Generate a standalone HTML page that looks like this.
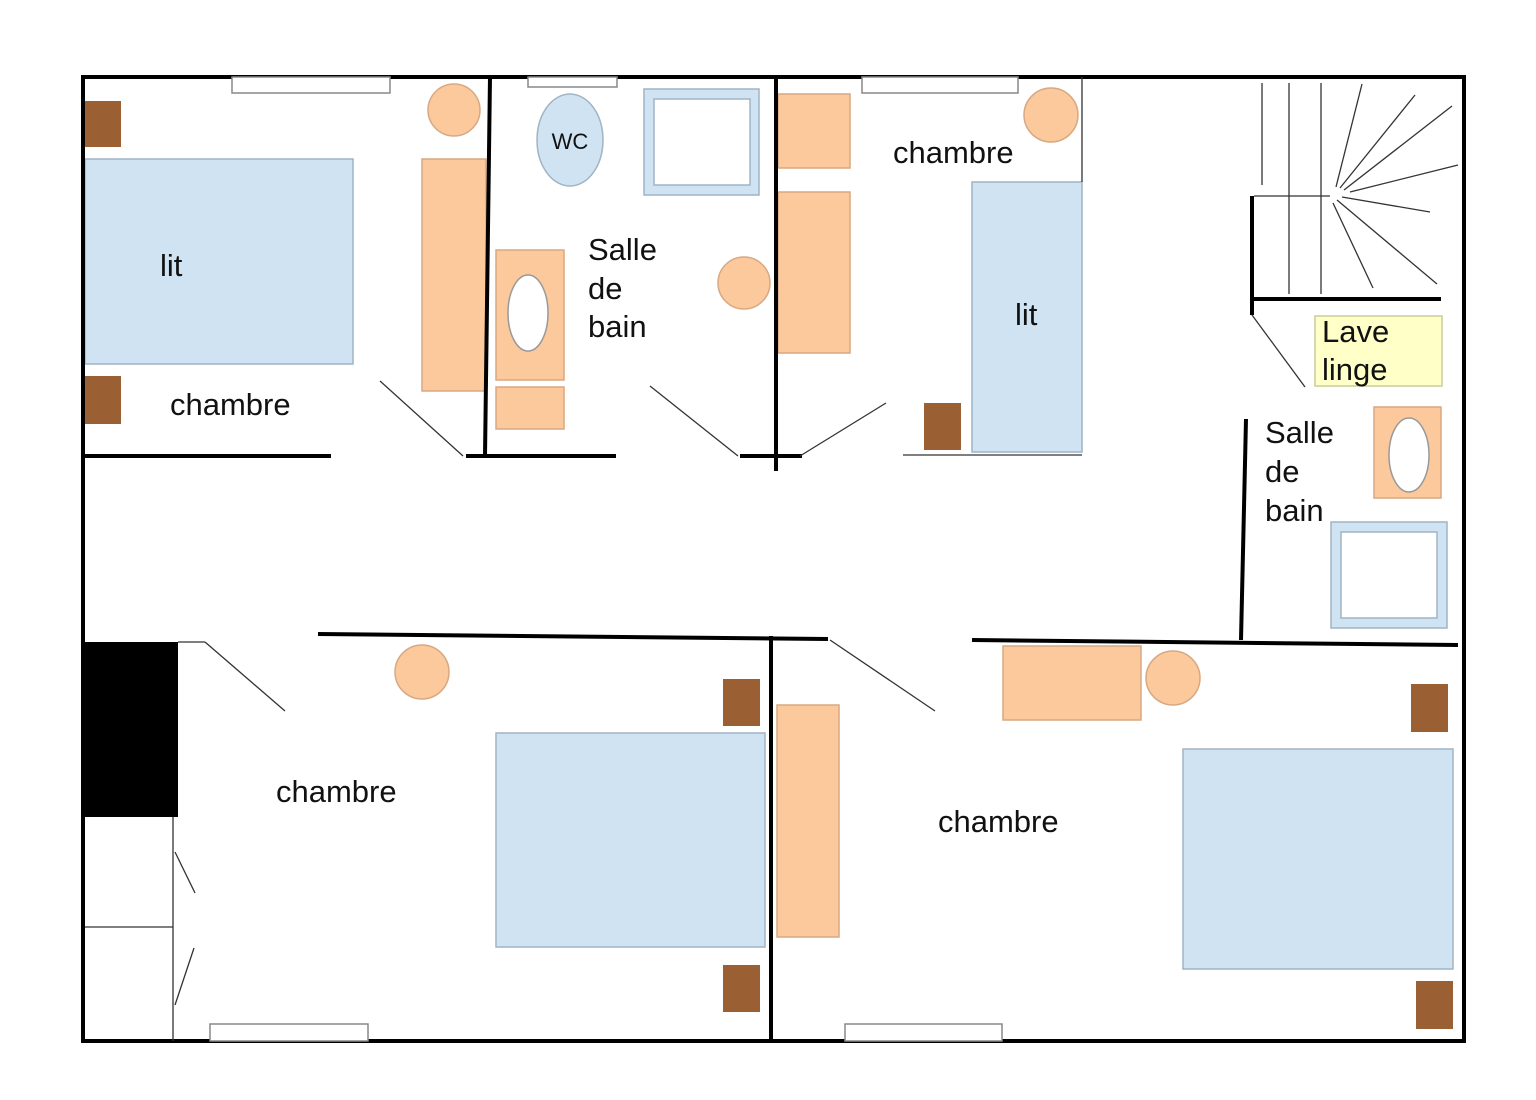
<!DOCTYPE html>
<html><head><meta charset="utf-8"><style>html,body{margin:0;padding:0;background:#fff}svg{display:block}text{font-family:"Liberation Sans",sans-serif;fill:#111}</style></head>
<body>
<svg width="1536" height="1100" viewBox="0 0 1536 1100" xmlns="http://www.w3.org/2000/svg">
<g stroke="#9fb4c4" stroke-width="1.5" fill="#cfe3f2">
<rect x="85" y="159" width="268" height="205"/>
<rect x="972" y="182" width="110" height="270"/>
<rect x="496" y="733" width="269" height="214"/>
<rect x="1183" y="749" width="270" height="220"/>
<ellipse cx="570" cy="140" rx="33" ry="46"/>
<rect x="644" y="89" width="115" height="106"/>
<rect x="1331" y="522" width="116" height="106"/>
</g>
<g fill="#fff" stroke="#9fb4c4" stroke-width="1.5">
<rect x="654" y="99" width="96" height="86"/>
<rect x="1341" y="532" width="96" height="86"/>
</g>
<g fill="#fbc99b" stroke="#d8a882" stroke-width="1.5">
<circle cx="454" cy="110" r="26"/>
<rect x="422" y="159" width="64" height="232"/>
<rect x="496" y="250" width="68" height="130"/>
<rect x="496" y="387" width="68" height="42"/>
<circle cx="744" cy="283" r="26"/>
<rect x="778" y="94" width="72" height="74"/>
<rect x="778" y="192" width="72" height="161"/>
<circle cx="1051" cy="115" r="27"/>
<rect x="1374" y="407" width="67" height="91"/>
<circle cx="422" cy="672" r="27"/>
<rect x="777" y="705" width="62" height="232"/>
<rect x="1003" y="646" width="138" height="74"/>
<circle cx="1173" cy="678" r="27"/>
</g>
<g fill="#fff" stroke="#999" stroke-width="1.5">
<ellipse cx="528" cy="313" rx="20" ry="38"/>
<ellipse cx="1409" cy="455" rx="20" ry="37"/>
</g>
<g fill="#9a5f33">
<rect x="85" y="101" width="36" height="46"/>
<rect x="85" y="376" width="36" height="48"/>
<rect x="924" y="403" width="37" height="47"/>
<rect x="723" y="679" width="37" height="47"/>
<rect x="723" y="965" width="37" height="47"/>
<rect x="1411" y="684" width="37" height="48"/>
<rect x="1416" y="981" width="37" height="48"/>
</g>
<rect x="85" y="642" width="93" height="175" fill="#000"/>
<rect x="1315" y="316" width="127" height="70" fill="#ffffc8" stroke="#cccc99" stroke-width="1.5"/>
<rect x="83" y="77" width="1381" height="964" fill="none" stroke="#000" stroke-width="4"/>
<g fill="#fff" stroke="#888" stroke-width="1.5">
<rect x="232" y="77" width="158" height="16"/>
<rect x="528" y="77" width="89" height="10"/>
<rect x="862" y="77" width="156" height="16"/>
<rect x="210" y="1024" width="158" height="17"/>
<rect x="845" y="1024" width="157" height="17"/>
</g>
<g stroke="#000" stroke-width="4" fill="none">
<line x1="85" y1="456" x2="331" y2="456"/>
<line x1="490" y1="77" x2="485" y2="456"/>
<line x1="466" y1="456" x2="616" y2="456"/>
<line x1="776" y1="77" x2="776" y2="471"/>
<line x1="740" y1="456" x2="802" y2="456"/>
<line x1="318" y1="634" x2="828" y2="639"/>
<line x1="972" y1="640" x2="1458" y2="645"/>
<line x1="771" y1="636" x2="771" y2="1041"/>
<line x1="1246" y1="419" x2="1241" y2="640"/>
<line x1="1252" y1="196" x2="1252" y2="315"/>
<line x1="1252" y1="299" x2="1441" y2="299"/>
</g>
<g stroke="#333" stroke-width="1.3" fill="none">
<line x1="380" y1="381" x2="463" y2="456"/>
<line x1="650" y1="386" x2="738" y2="456"/>
<line x1="800" y1="456" x2="886" y2="403"/>
<line x1="903" y1="455" x2="1082" y2="455"/>
<line x1="1082" y1="77" x2="1082" y2="182"/>
<line x1="1262" y1="83" x2="1262" y2="185"/>
<line x1="1289" y1="83" x2="1289" y2="294"/>
<line x1="1321" y1="83" x2="1321" y2="294"/>
<line x1="1254" y1="196" x2="1330" y2="196"/>
<line x1="1336" y1="187" x2="1362" y2="84"/>
<line x1="1340" y1="188" x2="1415" y2="95"/>
<line x1="1344" y1="190" x2="1452" y2="106"/>
<line x1="1350" y1="192" x2="1458" y2="165"/>
<line x1="1342" y1="197" x2="1430" y2="212"/>
<line x1="1337" y1="200" x2="1437" y2="284"/>
<line x1="1333" y1="203" x2="1373" y2="288"/>
<line x1="1252" y1="315" x2="1305" y2="387"/>
<line x1="178" y1="642" x2="205" y2="642"/>
<line x1="205" y1="642" x2="285" y2="711"/>
<line x1="173" y1="817" x2="173" y2="1041"/>
<line x1="85" y1="927" x2="173" y2="927"/>
<line x1="175" y1="852" x2="195" y2="893"/>
<line x1="194" y1="948" x2="175" y2="1005"/>
<line x1="830" y1="640" x2="935" y2="711"/>
</g>
<g font-size="31">
<text x="160" y="276">lit</text>
<text x="170" y="415">chambre</text>
<text x="588" y="260">Salle</text>
<text x="588" y="299">de</text>
<text x="588" y="337">bain</text>
<text x="893" y="163">chambre</text>
<text x="1015" y="325">lit</text>
<text x="1322" y="342">Lave</text>
<text x="1322" y="380">linge</text>
<text x="1265" y="443">Salle</text>
<text x="1265" y="482">de</text>
<text x="1265" y="521">bain</text>
<text x="276" y="802">chambre</text>
<text x="938" y="832">chambre</text>
</g>
<text x="570" y="143" font-size="22" text-anchor="middle" dominant-baseline="middle">WC</text>
</svg>
</body></html>
